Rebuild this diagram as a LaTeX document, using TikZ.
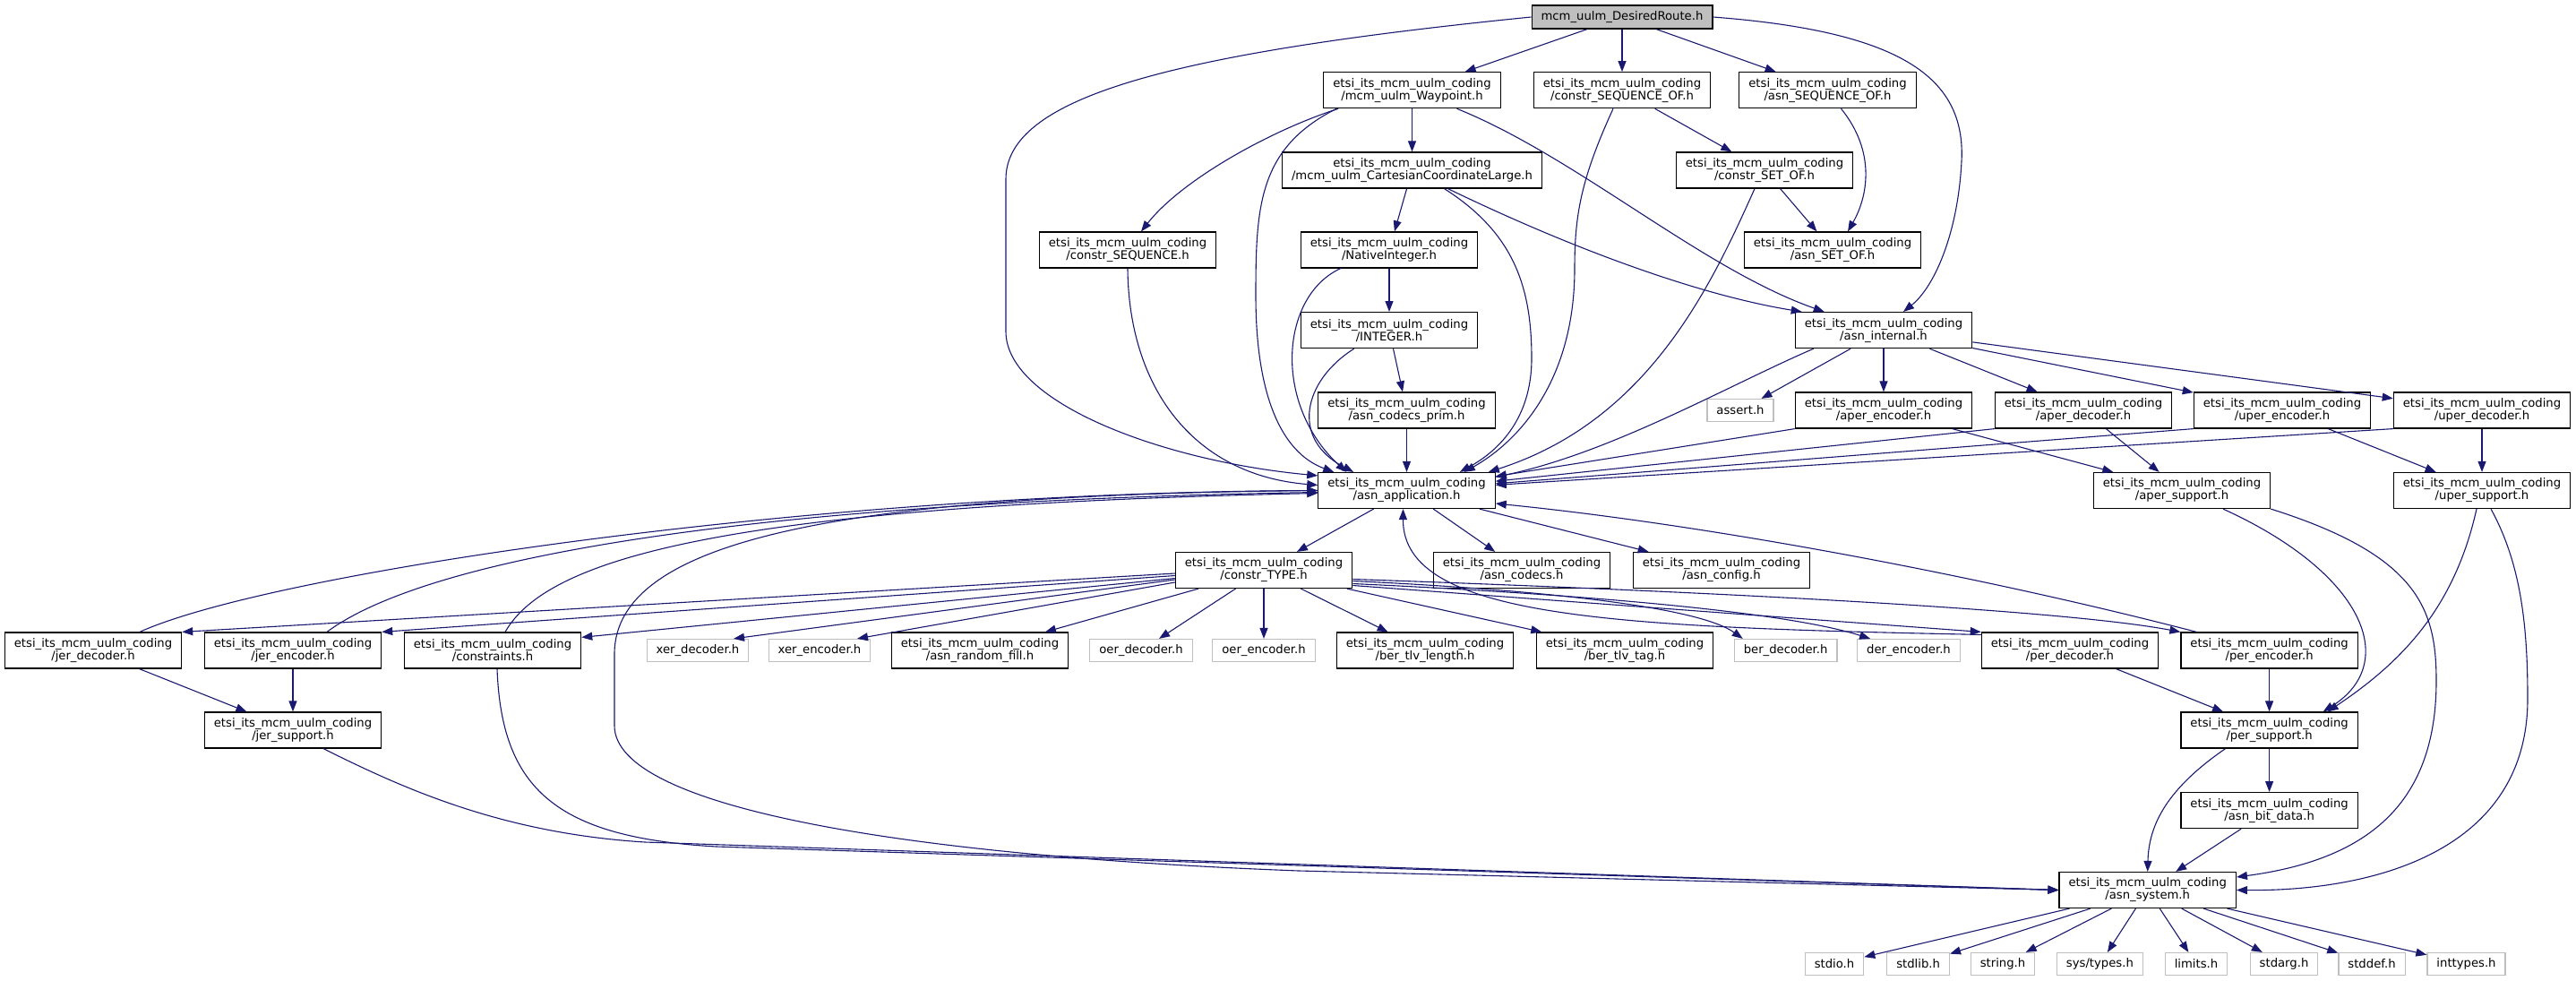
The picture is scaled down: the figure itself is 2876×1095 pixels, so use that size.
\documentclass[tikz,border=0pt]{standalone}
\usepackage{fontspec}
\setmainfont{DejaVu Sans}
\usetikzlibrary{calc,arrows.meta}
\definecolor{incblue}{RGB}{25,25,112}
\newcommand{\etsi}{etsi\_its\_mcm\_uulm\_coding}
\tikzset{
	hdrbox/.style={draw=black, line width=1.2pt, fill=white, align=center, inner xsep=10.5pt, inner ysep=0pt, minimum height=40pt, font=\fontsize{13.2}{14}\selectfont},
	libbox/.style={draw=black!25, line width=1.2pt, fill=white, inner xsep=10.5pt, inner ysep=0pt, minimum height=25pt, font=\fontsize{13.2}{14}\selectfont},
	rootbox/.style={hdrbox, fill=black!25, minimum height=26pt},
	inc/.style={draw=incblue, line width=1.1pt, -{Triangle[length=12pt,width=9pt]}}
}
\begin{document}
\begin{tikzpicture}[x=1pt,y=-1pt]
	\useasboundingbox (0,0) rectangle (2876,1095);
	\node[rootbox] (route) at (1811,19) {mcm\_uulm\_DesiredRoute.h};
	\node[hdrbox] (wp) at (1576.5,100.7) {\etsi\\/mcm\_uulm\_Waypoint.h};
	\node[hdrbox] (cseqof) at (1811,100.7) {\etsi\\/constr\_SEQUENCE\_OF.h};
	\node[hdrbox] (aseqof) at (2040.5,100.7) {\etsi\\/asn\_SEQUENCE\_OF.h};
	\node[hdrbox] (cart) at (1576.5,190) {\etsi\\/mcm\_uulm\_CartesianCoordinateLarge.h};
	\node[hdrbox] (csetof) at (1970,190) {\etsi\\/constr\_SET\_OF.h};
	\node[hdrbox] (cseq) at (1259,279) {\etsi\\/constr\_SEQUENCE.h};
	\node[hdrbox] (native) at (1551,279) {\etsi\\/NativeInteger.h};
	\node[hdrbox] (asetof) at (2046,279) {\etsi\\/asn\_SET\_OF.h};
	\node[hdrbox] (integer) at (1551,368.6) {\etsi\\/INTEGER.h};
	\node[hdrbox] (internal) at (2103,368.6) {\etsi\\/asn\_internal.h};
	\node[hdrbox] (prim) at (1570.5,458) {\etsi\\/asn\_codecs\_prim.h};
	\node[libbox] (assert) at (1943,458) {assert.h};
	\node[hdrbox] (aperenc) at (2103,458) {\etsi\\/aper\_encoder.h};
	\node[hdrbox] (aperdec) at (2326,458) {\etsi\\/aper\_decoder.h};
	\node[hdrbox] (uperenc) at (2548,458) {\etsi\\/uper\_encoder.h};
	\node[hdrbox] (uperdec) at (2771,458) {\etsi\\/uper\_decoder.h};
	\node[hdrbox] (app) at (1570.5,547.5) {\etsi\\/asn\_application.h};
	\node[hdrbox] (apersup) at (2436,547.5) {\etsi\\/aper\_support.h};
	\node[hdrbox] (upersup) at (2771,547.5) {\etsi\\/uper\_support.h};
	\node[hdrbox] (ctype) at (1411,636.5) {\etsi\\/constr\_TYPE.h};
	\node[hdrbox] (codecs) at (1699,636.5) {\etsi\\/asn\_codecs.h};
	\node[hdrbox] (config) at (1922,636.5) {\etsi\\/asn\_config.h};
	\node[hdrbox] (jerdec) at (104,726) {\etsi\\/jer\_decoder.h};
	\node[hdrbox] (jerenc) at (327,726) {\etsi\\/jer\_encoder.h};
	\node[hdrbox] (constraints) at (550,726) {\etsi\\/constraints.h};
	\node[libbox] (xerdec) at (779,726) {xer\_decoder.h};
	\node[libbox] (xerenc) at (915,726) {xer\_encoder.h};
	\node[hdrbox] (randfill) at (1094,726) {\etsi\\/asn\_random\_fill.h};
	\node[libbox] (oerdec) at (1274,726) {oer\_decoder.h};
	\node[libbox] (oerenc) at (1411,726) {oer\_encoder.h};
	\node[hdrbox] (berlen) at (1591,726) {\etsi\\/ber\_tlv\_length.h};
	\node[hdrbox] (bertag) at (1814,726) {\etsi\\/ber\_tlv\_tag.h};
	\node[libbox] (berdec) at (1993.6,726) {ber\_decoder.h};
	\node[libbox] (derenc) at (2131,726) {der\_encoder.h};
	\node[hdrbox] (perdec) at (2311,726) {\etsi\\/per\_decoder.h};
	\node[hdrbox] (perenc) at (2533.6,726) {\etsi\\/per\_encoder.h};
	\node[hdrbox] (jersup) at (327,815) {\etsi\\/jer\_support.h};
	\node[hdrbox] (persup) at (2533.6,815) {\etsi\\/per\_support.h};
	\node[hdrbox] (bitdata) at (2533.6,904.6) {\etsi\\/asn\_bit\_data.h};
	\node[hdrbox] (system) at (2397.7,993.5) {\etsi\\/asn\_system.h};
	\node[libbox] (stdio) at (2048,1076) {stdio.h};
	\node[libbox] (stdlib) at (2141.6,1076) {stdlib.h};
	\node[libbox] (string) at (2236,1076) {string.h};
	\node[libbox] (systypes) at (2344.4,1076) {sys/types.h};
	\node[libbox] (limits) at (2452,1076) {limits.h};
	\node[libbox] (stdarg) at (2550,1076) {stdarg.h};
	\node[libbox] (stddef) at (2648,1076) {stddef.h};
	\node[libbox] (inttypes) at (2753.5,1076) {inttypes.h};
	\draw[inc] (route) -- (wp);
	\draw[inc] (route) -- (cseqof);
	\draw[inc] (route) -- (aseqof);
	\draw[inc] (route.west) .. controls (1300,60) and (1123,110) .. (1123,200) -- (1123,370) .. controls (1123,450) and (1300,515) .. ($(app.north west)+(0,4)$);
	\draw[inc] (route.east) .. controls (2120,35) and (2195,85) .. (2190,180) .. controls (2186,260) and (2160,320) .. ($(internal.north)+(22,0)$);
	\draw[inc] (wp) -- (cart);
	\draw[inc] ($(wp.south west)+(17,0)$) .. controls (1420,145) and (1320,200) .. ($(cseq.north)+(15,0)$);
	\draw[inc] ($(wp.south west)+(15,0)$) .. controls (1405,165) and (1402,230) .. (1402,330) .. controls (1402,440) and (1430,505) .. ($(app.north west)+(18,0)$);
	\draw[inc] ($(wp.south)+(50,0)$) .. controls (1760,175) and (1900,300) .. ($(internal.north west)+(33,0)$);
	\draw[inc] (cseqof) -- (csetof);
	\draw[inc] ($(cseqof.south)+(-10,0)$) .. controls (1765,200) and (1758,240) .. (1758,300) .. controls (1758,420) and (1700,490) .. ($(app.north east)+(-35,0)$);
	\draw[inc] ($(aseqof.south)+(15,0)$) .. controls (2095,170) and (2085,220) .. ($(asetof.north)+(17,0)$);
	\draw[inc] (cart) -- (native);
	\draw[inc] ($(cart.south)+(36,0)$) .. controls (1690,260) and (1710,320) .. (1710,400) .. controls (1710,470) and (1670,505) .. ($(app.north east)+(-40,0)$);
	\draw[inc] ($(cart.south)+(40,0)$) .. controls (1760,280) and (1900,330) .. ($(internal.north west)+(8,0)$);
	\draw[inc] (csetof) -- (asetof);
	\draw[inc] ($(csetof.south)+(-11,0)$) .. controls (1910,320) and (1840,470) .. ($(app.north east)+(-8,0)$);
	\draw[inc] (cseq.south) .. controls (1260,430) and (1330,530) .. ($(app.west)+(0,-6)$);
	\draw[inc] (native) -- (integer);
	\draw[inc] ($(native.south west)+(45,0)$) .. controls (1430,330) and (1420,450) .. ($(app.north west)+(32,0)$);
	\draw[inc] (integer) -- (prim);
	\draw[inc] ($(integer.south west)+(60,0)$) .. controls (1455,425) and (1440,490) .. ($(app.north west)+(40,0)$);
	\draw[inc] (prim) -- (app);
	\draw[inc] ($(internal.south west)+(21,0)$) .. controls (1930,430) and (1800,505) .. ($(app.east)+(0,-15)$);
	\draw[inc] (internal) -- (assert);
	\draw[inc] (internal) -- (aperenc);
	\draw[inc] (internal) -- (aperdec);
	\draw[inc] (internal) -- (uperenc);
	\draw[inc] (internal) -- (uperdec);
	\draw[inc] (aperenc.south west) -- (app);
	\draw[inc] (aperenc) -- (apersup);
	\draw[inc] (aperdec.south west) -- (app);
	\draw[inc] (aperdec) -- (apersup);
	\draw[inc] (uperenc.south west) -- (app);
	\draw[inc] (uperenc) -- (upersup);
	\draw[inc] (uperdec.south west) -- (app);
	\draw[inc] (uperdec) -- (upersup);
	\draw[inc] (app) -- (ctype);
	\draw[inc] (app) -- (codecs);
	\draw[inc] (app) -- (config);
	\draw[inc] (app.west) .. controls (950,552) and (686,600) .. (686,730) -- (686,810) .. controls (686,900) and (1000,955) .. (1450,972) -- (system.west);
	\draw[inc] ($(ctype.west)+(0,3.5)$) -- (jerdec.north east);
	\draw[inc] ($(ctype.west)+(0,6)$) -- (jerenc.north east);
	\draw[inc] ($(ctype.west)+(0,9)$) -- ($(constraints.north east)+(0,6)$);
	\draw[inc] ($(ctype.west)+(0,10.5)$) -- ($(xerdec.north)+(40,0)$);
	\draw[inc] ($(ctype.west)+(0,13.5)$) -- ($(xerenc.north)+(42,0)$);
	\draw[inc] (ctype) -- (randfill);
	\draw[inc] (ctype) -- (oerdec);
	\draw[inc] (ctype) -- (oerenc);
	\draw[inc] (ctype) -- (berlen);
	\draw[inc] (ctype) -- (bertag);
	\draw[inc] ($(ctype.east)+(0,12)$) .. controls (1750,660) and (1900,680) .. ($(berdec.north west)+(10,0)$);
	\draw[inc] ($(ctype.east)+(0,15)$) .. controls (1800,665) and (2000,685) .. ($(derenc.north west)+(15,0)$);
	\draw[inc] ($(ctype.east)+(0,17)$) -- (perdec.north west);
	\draw[inc] ($(ctype.east)+(0,10)$) .. controls (1900,660) and (2300,680) .. (perenc.north west);
	\draw[inc] ($(jerdec.north)+(52,0)$) .. controls (300,640) and (900,550) .. (app.west);
	\draw[inc] (jerdec) -- (jersup);
	\draw[inc] ($(jerenc.north)+(38,0)$) .. controls (480,620) and (850,560) .. ($(app.west)+(0,2)$);
	\draw[inc] (jerenc) -- (jersup);
	\draw[inc] ($(constraints.north)+(14,0)$) .. controls (610,625) and (800,565) .. ($(app.west)+(0,3)$);
	\draw[inc] ($(constraints.south)+(5,0)$) .. controls (560,880) and (620,935) .. (800,945) -- (system.west);
	\draw[inc] ($(jersup.south)+(34,0)$) .. controls (450,880) and (560,930) .. (720,940) -- (system.west);
	\draw[inc] ($(perdec.north west)+(0,3)$) .. controls (1800,700) and (1566,690) .. ($(app.south)+(-4,0)$);
	\draw[inc] (perdec) -- (persup);
	\draw[inc] ($(perenc.north west)+(18,0)$) .. controls (2200,640) and (1900,585) .. ($(app.east)+(0,14.5)$);
	\draw[inc] (perenc) -- (persup);
	\draw[inc] ($(persup.south)+(-49,0)$) .. controls (2420,880) and (2399,920) .. (system.north);
	\draw[inc] (persup) -- (bitdata);
	\draw[inc] (bitdata) -- (system);
	\draw[inc] ($(apersup.south)+(46,0)$) .. controls (2640,640) and (2680,740) .. ($(persup.north)+(60,0)$);
	\draw[inc] (apersup.south east) .. controls (2700,620) and (2720,680) .. (2720,760) .. controls (2720,900) and (2640,960) .. ($(system.east)+(0,-14.5)$);
	\draw[inc] ($(upersup.south)+(-6,0)$) .. controls (2740,680) and (2680,740) .. ($(persup.north)+(65,0)$);
	\draw[inc] ($(upersup.south)+(10,0)$) .. controls (2815,630) and (2822,700) .. (2822,780) .. controls (2822,950) and (2650,995) .. (system.east);
	\foreach \h in {stdio,stdlib,string,systypes,limits,stdarg,stddef,inttypes}
		\draw[inc] (system) -- (\h);
\end{tikzpicture}
\end{document}
